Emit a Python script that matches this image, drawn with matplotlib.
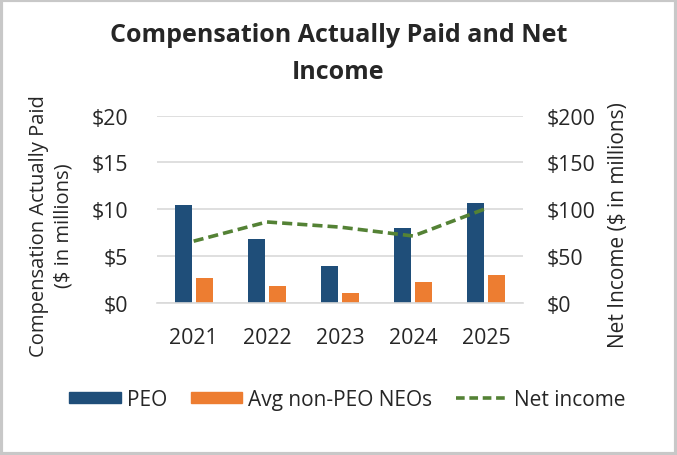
import matplotlib
matplotlib.use("Agg")
import matplotlib.pyplot as plt
from matplotlib.patches import Rectangle
from matplotlib.lines import Line2D
import numpy as np

plt.rcParams['font.family'] = ['Open Sans', 'DejaVu Sans']

years = ["2021", "2022", "2023", "2024", "2025"]
peo = [10.5, 6.8, 3.95, 8.05, 10.65]
non_peo = [2.65, 1.85, 1.05, 2.25, 3.0]
net_income = [66, 86.5, 81, 71.5, 101]

blue = "#1F4E79"
orange = "#ED7D31"
green = "#548235"
txt = "#262626"

fig = plt.figure(figsize=(6.77, 4.56), dpi=100)
ax = fig.add_axes([0.232, 0.3333, 0.5405, 0.411])
ax2 = ax.twinx()

x = np.arange(len(years))
w = 0.232
ax.bar(x - 0.144, peo, w, color=blue, zorder=2)
ax.bar(x + 0.144, non_peo, w, color=orange, zorder=2)
ax2.plot(x, net_income, color=green, lw=2.6, dashes=(2.8, 1.4), zorder=3)

ax.set_xlim(-0.5, 4.5)
ax.set_ylim(0, 20)
ax2.set_ylim(0, 200)
ax.set_yticks([0, 5, 10, 15, 20])
ax.set_yticklabels(["$0", "$5", "$10", "$15", "$20"])
ax2.set_yticks([0, 50, 100, 150, 200])
ax2.set_yticklabels(["$0", "$50", "$100", "$150", "$200"])
ax.set_xticks(x)
ax.set_xticklabels(years)
ax.grid(axis="y", color="#D9D9D9", lw=1.2, zorder=0)
for a in (ax, ax2):
    for s in a.spines.values():
        s.set_visible(False)
    a.tick_params(length=0, labelsize=15.3, colors=txt)
ax.tick_params(axis="y", pad=21)
ax2.tick_params(axis="y", pad=17)
ax.tick_params(axis="x", pad=17)
ax.spines["bottom"].set_visible(True)
ax.spines["bottom"].set_color("#D9D9D9")
ax.spines["bottom"].set_linewidth(1.2)

fig.text(0.5, 0.882, "Compensation Actually Paid and Net\nIncome", ha="center", va="center",
         fontsize=18, fontweight="bold", color=txt, linespacing=1.65)
fig.text(0.075, 0.505, "Compensation Actually Paid\n($ in millions)", ha="center", va="center",
         rotation=90, fontsize=14.5, color=txt, linespacing=1.3)
fig.text(0.913, 0.507, "Net Income ($ in millions)", ha="center", va="center",
         rotation=90, fontsize=15, color=txt)

handles = [Rectangle((0, 0), 1, 1, color=blue),
           Rectangle((0, 0), 1, 1, color=orange),
           Line2D([0], [0], color=green, lw=2.6, dashes=(2.4, 1.3))]
fig.legend(handles, ["PEO", "Avg non-PEO NEOs", "Net income"], loc="center",
           bbox_to_anchor=(0.513, 0.122), ncol=3, frameon=False, fontsize=15,
           handlelength=2.45, handleheight=0.48, handletextpad=0.3, columnspacing=1.15,
           labelcolor=txt)

fig.add_artist(Rectangle((0.002, 0.003), 0.996, 0.994, transform=fig.transFigure,
                         fill=False, edgecolor="#C8C8C8", lw=3))

fig.savefig("out.png", dpi=100)
